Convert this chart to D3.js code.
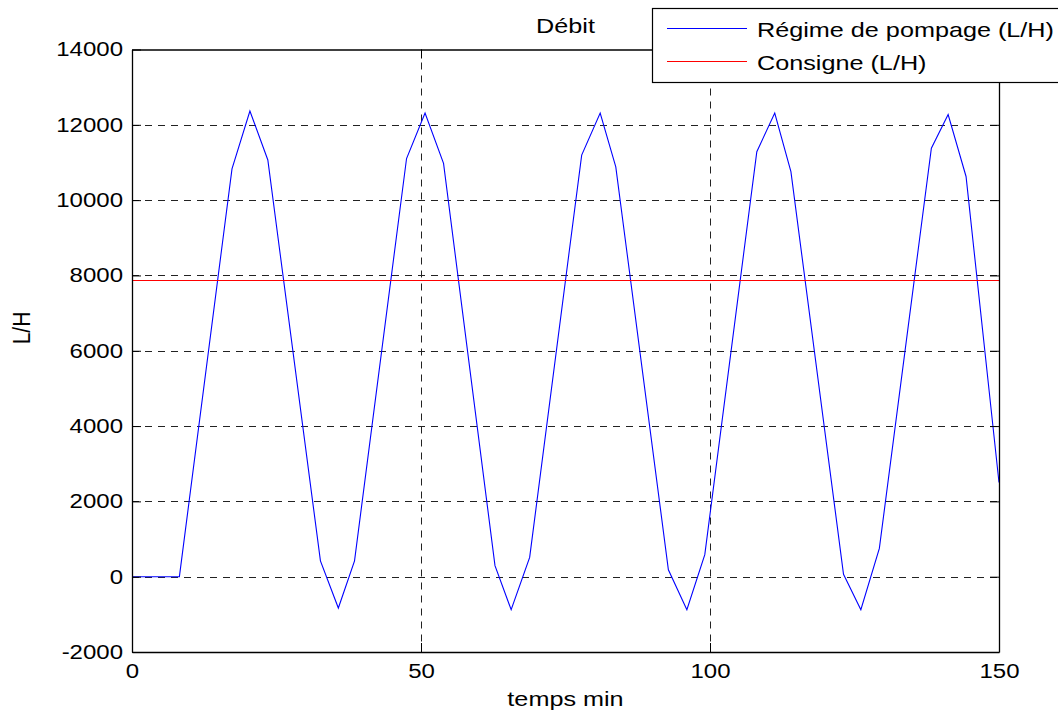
<!DOCTYPE html>
<html><head><meta charset="utf-8">
<script src="https://cdn.jsdelivr.net/npm/d3@7"></script>
<style>
body{margin:0;background:#fff}
text{font-family:"Liberation Sans",Arial,Helvetica,sans-serif;fill:#000}
</style></head>
<body><svg id="c" width="1058" height="715"></svg>
<script>
// ---- data ----
const xTicks = [0, 50, 100, 150];
const yTicks = [-2000, 0, 2000, 4000, 6000, 8000, 10000, 12000, 14000];
const times = [0, 8.2, 17.3, 20.4, 23.5, 32.6, 35.7, 38.5, 47.5, 50.7, 53.9, 62.8, 65.6, 68.8,
  77.8, 81.0, 83.7, 92.8, 96.0, 99.1, 108.1, 111.2, 114.0, 123.1, 126.1, 129.3, 138.3, 141.2, 144.3, 150];
const flow = [0, 0, 10829, 12366, 11067, 421, -832, 421, 11104, 12311, 10975, 293, -878, 512,
  11195, 12311, 10884, 183, -878, 585, 11287, 12311, 10756, 64, -878, 750, 11378, 12274, 10628, 2500];
const setTimes = [0, 150];
const setValues = [7880, 7880];
const seriesNames = ["Régime de pompage (L/H)", "Consigne (L/H)"];
const seriesColors = ["#0000ff", "#ff0000"];

// ---- layout ----
const L = 132, R = 999, T = 49.5, B = 652;
const svg = d3.select("#c");
svg.append("rect").attr("width", 1058).attr("height", 715).attr("fill", "#fff");

const x = d3.scaleLinear().domain([0, 150]).range([L, R]);
const y = d3.scaleLinear().domain([-2000, 14000]).range([B, T]);

// grid
const grid = svg.append("g").attr("stroke", "#222").attr("stroke-width", 1).attr("stroke-dasharray", "7,6");
grid.selectAll("line.h").data(yTicks.slice(1, -1)).join("line")
  .attr("x1", L).attr("x2", R).attr("y1", d => Math.round(y(d)) + 0.5).attr("y2", d => Math.round(y(d)) + 0.5);
grid.selectAll("line.v").data(xTicks.slice(1, -1)).join("line")
  .attr("y1", T).attr("y2", B).attr("x1", d => Math.round(x(d)) + 0.5).attr("x2", d => Math.round(x(d)) + 0.5);

// clip
svg.append("clipPath").attr("id", "clip").append("rect")
  .attr("x", L).attr("y", T).attr("width", R - L).attr("height", B - T);

const line = d3.line().x(d => x(d[0])).y(d => y(d[1]));
svg.append("path").datum(times.map((t, i) => [t, flow[i]]))
  .attr("clip-path", "url(#clip)")
  .attr("fill", "none").attr("stroke", seriesColors[0]).attr("stroke-width", 1.1).attr("d", line);
const lineSnap = d3.line().x(d => x(d[0])).y(d => Math.round(y(d[1])) + 0.5);
svg.append("path").datum(setTimes.map((t, i) => [t, setValues[i]]))
  .attr("clip-path", "url(#clip)").attr("shape-rendering", "crispEdges")
  .attr("fill", "none").attr("stroke", seriesColors[1]).attr("stroke-width", 1).attr("d", lineSnap);

// axes
function styleAxis(g) {
  g.select(".domain").attr("stroke", "#000").attr("stroke-width", 1.3);
  g.selectAll(".tick line").attr("stroke", "#000").attr("stroke-width", 1);
  g.selectAll(".tick text").attr("font-size", 20).attr("font-family", '"Liberation Sans",Arial,sans-serif');
}
svg.append("g").attr("transform", `translate(0,${B})`)
  .call(d3.axisBottom(x).tickValues(xTicks).tickSizeInner(-9).tickSizeOuter(0).tickPadding(12).tickFormat(d3.format("d")))
  .call(styleAxis).attr("class", "xaxis");
svg.append("g").attr("transform", `translate(${L},0)`)
  .call(d3.axisLeft(y).tickValues(yTicks).tickSizeInner(-9).tickSizeOuter(0).tickPadding(9).tickFormat(d => d < 0 ? "-" + Math.abs(d) : String(d)))
  .call(styleAxis).attr("class", "yaxis");
svg.append("g").attr("transform", `translate(0,${T})`)
  .call(d3.axisTop(x).tickValues(xTicks).tickSizeInner(-9).tickSizeOuter(0).tickFormat(""))
  .call(styleAxis);
svg.append("g").attr("transform", `translate(${R},0)`)
  .call(d3.axisRight(y).tickValues(yTicks).tickSizeInner(-9).tickSizeOuter(0).tickFormat(""))
  .call(styleAxis);

// titles
svg.append("text").attr("class", "stretch").attr("x", (L + R) / 2).attr("y", 33)
  .attr("text-anchor", "middle").attr("font-size", 21).text("Débit");
svg.append("text").attr("class", "stretch").attr("x", (L + R) / 2).attr("y", 706)
  .attr("text-anchor", "middle").attr("font-size", 21).text("temps min");
svg.append("text").attr("transform", "translate(29.5,328) scale(1.15,1) rotate(-90)")
  .attr("text-anchor", "middle").attr("font-size", 21).text("L/H");

// legend
const lg = svg.append("g");
lg.append("rect").attr("x", 652.5).attr("y", 8.5).attr("width", 420).attr("height", 74)
  .attr("fill", "#fff").attr("stroke", "#000").attr("stroke-width", 1.2);
const ly = [28.5, 61.5];
seriesNames.forEach((n, i) => {
  lg.append("line").attr("x1", 667).attr("x2", 747).attr("y1", ly[i]).attr("y2", ly[i])
    .attr("shape-rendering", "crispEdges")
    .attr("stroke", seriesColors[i]).attr("stroke-width", 1);
  lg.append("text").attr("class", "stretch").attr("x", 757).attr("y", ly[i] + 8)
    .attr("font-size", 21).text(n);
});

// horizontal stretch of text to match reference proportions
svg.selectAll(".xaxis .tick text, .yaxis .tick text, text.stretch").each(function () {
  const len = this.getComputedTextLength();
  d3.select(this).attr("textLength", len * 1.2).attr("lengthAdjust", "spacingAndGlyphs");
});
</script></body></html>
